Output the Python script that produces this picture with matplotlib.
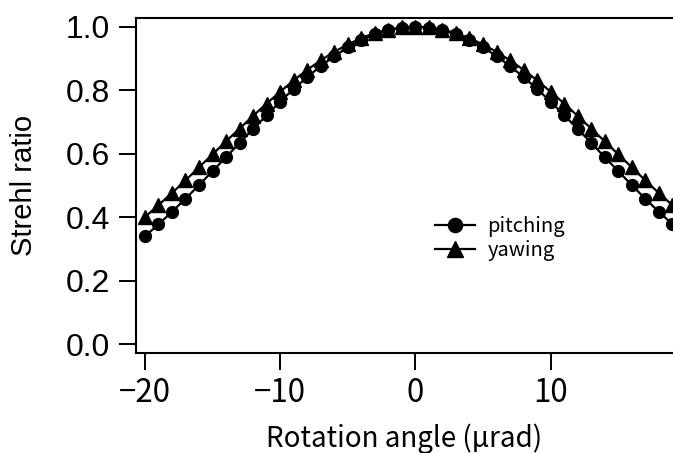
import matplotlib
matplotlib.use("Agg")
import matplotlib.pyplot as plt

# 旋轉角度 (µrad)
angle = list(range(-20, 20))

# Strehl ratio 讀圖估計值
pitching = [0.340, 0.377, 0.417, 0.458, 0.501, 0.545, 0.589, 0.634, 0.678, 0.721,
            0.764, 0.804, 0.841, 0.876, 0.907, 0.935, 0.958, 0.976, 0.989, 0.997,
            1.000, 0.997, 0.989, 0.976, 0.958, 0.935, 0.907, 0.876, 0.841, 0.804,
            0.764, 0.721, 0.678, 0.634, 0.589, 0.545, 0.501, 0.458, 0.417, 0.378]
yawing = [0.400, 0.438, 0.476, 0.516, 0.557, 0.598, 0.639, 0.679, 0.719, 0.758,
          0.795, 0.831, 0.864, 0.894, 0.921, 0.944, 0.964, 0.980, 0.991, 0.998,
          1.000, 0.998, 0.991, 0.980, 0.964, 0.944, 0.921, 0.894, 0.864, 0.831,
          0.795, 0.758, 0.719, 0.679, 0.639, 0.598, 0.557, 0.516, 0.476, 0.438]

xticks = [-20, -10, 0, 10]
yticks = [0.0, 0.2, 0.4, 0.6, 0.8, 1.0]

jp = ['Noto Sans CJK JP', 'DejaVu Sans']
latin = ['Liberation Sans', 'DejaVu Sans']

fig = plt.figure(figsize=(6.73, 4.53), dpi=100)
ax = fig.add_axes([136 / 673, 1 - 353 / 453, (673 - 136) / 673, (353 - 17.5) / 453])

ax.plot(angle, pitching, color='black', linewidth=1.6, marker='o', markersize=8.5,
        label='pitching', clip_on=False)
ax.plot(angle, yawing, color='black', linewidth=1.6, marker='^', markersize=10,
        label='yawing', clip_on=False)

ax.set_xlim(-20.66, 19.05)
ax.set_ylim(-0.028, 1.029)

ax.spines['right'].set_visible(False)
for s in ['left', 'top', 'bottom']:
    ax.spines[s].set_linewidth(1.5)

ax.set_xticks(xticks)
ax.set_xticklabels(['\u221220', '\u221210', '0', '10'], family=jp, fontsize=22.5)
ax.set_yticks(yticks)
ax.set_yticklabels([f"{v:.1f}" for v in yticks], family=latin, fontsize=23)
ax.tick_params(axis='both', direction='out', length=12.5, width=1.4)
ax.tick_params(axis='y', pad=6)
ax.tick_params(axis='x', pad=5)

ax.set_xlabel('Rotation angle (\u00b5rad)', family=jp, fontsize=20, labelpad=10)
ax.set_ylabel('Strehl ratio', family=latin, fontsize=21, labelpad=20)

leg = ax.legend(loc='upper left', bbox_to_anchor=((427 - 136) / 537, 1 - (208 - 17.5) / 335.5),
                frameon=False, prop={'family': jp, 'size': 14.5}, markerscale=1.2,
                handlelength=2.0, handletextpad=0.6, labelspacing=0.15, borderaxespad=0)

plt.savefig('out.png', dpi=100)
